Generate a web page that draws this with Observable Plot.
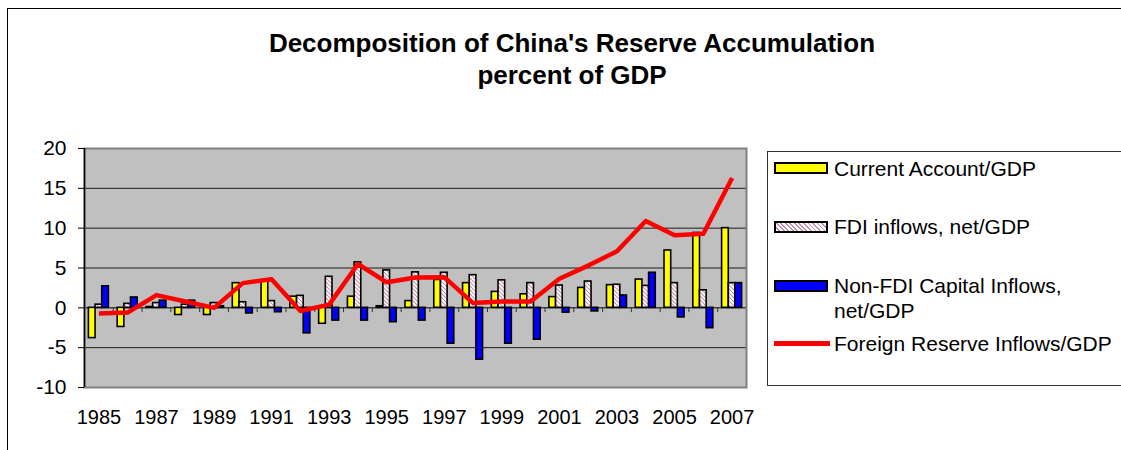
<!DOCTYPE html>
<html><head><meta charset="utf-8">
<script src="https://cdn.jsdelivr.net/npm/d3@7"></script>
<script src="https://cdn.jsdelivr.net/npm/@observablehq/plot@0.6"></script>
<style>
body{margin:0;background:#fff;font-family:"Liberation Sans",Arial,sans-serif;}
#wrap{position:relative;width:1121px;height:450px;overflow:hidden;background:#fff;}
#frame{position:absolute;left:7px;top:8px;width:1200px;height:500px;border-top:1.5px solid #000;border-left:1.5px solid #000;}
#title{position:absolute;left:72px;top:27px;width:1000px;text-align:center;font-weight:bold;font-size:26px;line-height:32px;color:#000;}
#chart{position:absolute;left:0;top:100px;}
#legend{position:absolute;left:767px;top:151px;width:360px;height:233px;border:1px solid #333;background:#fff;}
.lg{position:absolute;left:66px;font-size:21px;line-height:25px;color:#000;white-space:nowrap;}
.sw{position:absolute;left:6px;width:50px;height:8px;border:2px solid #000;}
</style></head><body>
<div id="wrap">
 <div id="frame"></div>
 <div id="title">Decomposition of China's Reserve Accumulation<br>percent of GDP</div>
 <div id="chart"></div>
 <div id="legend"></div>
</div>
<script>
const years = [1985,1986,1987,1988,1989,1990,1991,1992,1993,1994,1995,1996,1997,1998,1999,2000,2001,2002,2003,2004,2005,2006,2007];
const currentAccount = [-3.8,-2.4,0.1,-0.9,-0.9,3.1,3.4,1.4,-2.0,1.4,0.2,0.85,3.5,3.1,2.0,1.7,1.35,2.5,2.85,3.55,7.2,9.4,10.0];
const fdiInflows = [0.4,0.5,0.6,0.4,0.6,0.7,0.85,1.5,3.9,5.7,4.7,4.45,4.4,4.1,3.45,3.1,2.8,3.3,2.9,2.75,3.1,2.2,3.1];
const nonFdiInflows = [2.7,1.3,0.9,0.9,0.2,-0.7,-0.55,-3.2,-1.6,-1.6,-1.8,-1.6,-4.5,-6.5,-4.5,-4.0,-0.6,-0.45,1.55,4.4,-1.2,-2.55,3.1];
const reserveInflows = [-0.7,-0.6,1.6,0.8,0.0,3.1,3.6,-0.4,0.4,5.5,3.2,3.8,3.85,0.6,0.8,0.8,3.65,5.3,7.1,10.9,9.1,9.3,16.3];
const seriesNames = ["Current Account/GDP","FDI inflows, net/GDP","Non-FDI Capital Inflows, net/GDP","Foreign Reserve Inflows/GDP"];
const yTicks = [-10,-5,0,5,10,15,20];
const gridValues = [15,10,5,-5];
const xTickLabels = [1985,1987,1989,1991,1993,1995,1997,1999,2001,2003,2005,2007];

const W = 1121, H = 350, mL = 84, mR = 375, mT = 48, mB = 63;
const bw = (W - mL - mR) / years.length;
const groupW = 20, barW = groupW / 3;
const inset = i => { const l = (bw - groupW) / 2 + i * barW; return {insetLeft: l, insetRight: bw - l - barW}; };

const rows = (vals) => years.map((y, i) => ({year: y, value: vals[i]}));
const seriesData = [currentAccount, fdiInflows, nonFdiInflows].map(rows);
const fills = ["#ffff00", "url(#fdiHatch)", "#0000ff"];

const defs = () => {
  const ns = "http://www.w3.org/2000/svg";
  const d = document.createElementNS(ns, "defs");
  d.innerHTML = `<pattern id="fdiHatch" patternUnits="userSpaceOnUse" width="4" height="4">
    <rect width="4" height="4" fill="#ffffff"/>
    <path d="M0,0 L4,4 M-1,3 L1,5 M3,-1 L5,1" stroke="#c890b0" stroke-width="1.1"/></pattern>`;
  return d;
};

const chart = Plot.plot({
  width: W, height: H,
  marginLeft: mL, marginRight: mR, marginTop: mT, marginBottom: mB,
  style: {fontFamily: '"Liberation Sans", Arial, sans-serif', color: "#000", background: "transparent"},
  x: {type: "band", domain: years, padding: 0, round: false, range: [mL, W - mR]},
  y: {domain: [-10, 20], range: [H - mB, mT]},
  marks: [
    defs,
    Plot.frame({fill: "#c0c0c0", stroke: "none"}),
    Plot.ruleY(gridValues, {stroke: "#1a1a1a", strokeWidth: 1}),
    Plot.ruleY([0], {stroke: "#000", strokeWidth: 1}),
    ...seriesData.map((data, i) => Plot.barY(data, {
      x: "year", y1: 0, y2: "value", fill: fills[i], stroke: "#000", strokeWidth: 1.6, ...inset(i)
    })),
    Plot.ruleX(years, {x: d => d, y1: 0, y2: -0.6, dx: -bw / 2, stroke: "#333", strokeWidth: 1}),
    Plot.ruleX([years[years.length - 1]], {x: d => d, y1: 0, y2: -0.6, dx: bw / 2, stroke: "#333", strokeWidth: 1}),
    Plot.lineY(years.map((y, i) => ({year: y, value: reserveInflows[i]})), {
      x: "year", y: "value", stroke: "#ff0000", strokeWidth: 4.5, strokeLinejoin: "round", strokeLinecap: "butt"
    }),
    Plot.frame({stroke: "#808080", strokeWidth: 2}),
    Plot.ruleX([years[0]], {x: d => d, dx: -bw / 2, stroke: "#000", strokeWidth: 1.5}),
    Plot.axisY({ticks: yTicks, tickSize: 6, tickPadding: 12, fontSize: 21, tickFormat: d => String(d), stroke: "#000", label: null}),
    Plot.axisX({ticks: xTickLabels, tickSize: 0, tickPadding: 22, fontSize: 20, tickFormat: d => String(d), label: null})
  ]
});
document.getElementById("chart").appendChild(chart);

// legend
const lg = document.getElementById("legend");
const top0 = 151;
const items = [
  {type: "bar", fill: "#ffff00", y: 167, text: seriesNames[0]},
  {type: "bar", fill: "repeating-linear-gradient(45deg,#ffffff 0 2px,#c890b0 2px 3.2px)", y: 225.5, text: seriesNames[1]},
  {type: "bar", fill: "#0000ff", y: 284.5, text: "Non-FDI Capital Inflows,<br>net/GDP"},
  {type: "line", fill: "#ff0000", y: 342, text: seriesNames[3]}
];
items.forEach(it => {
  const sw = document.createElement("div");
  if (it.type === "bar") {
    sw.className = "sw";
    sw.style.top = (it.y - top0 - 6) + "px";
    sw.style.background = it.fill;
  } else {
    sw.style.cssText = `position:absolute;left:6px;width:56px;height:4.5px;background:${it.fill};top:${it.y - top0 - 2}px`;
  }
  lg.appendChild(sw);
  const t = document.createElement("div");
  t.className = "lg";
  t.innerHTML = it.text;
  t.style.top = (it.y - top0 - 12.5) + "px";
  lg.appendChild(t);
});
</script>
</body></html>
